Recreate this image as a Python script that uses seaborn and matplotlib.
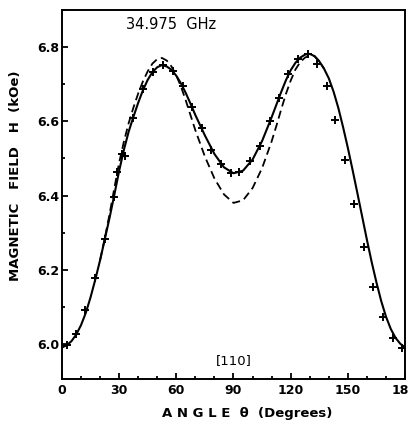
import numpy as np
import pandas as pd
import matplotlib
matplotlib.use("Agg")
import matplotlib.pyplot as plt
from matplotlib.ticker import MultipleLocator
import seaborn as sns

# measured resonance fields (crosses)
theta_meas = [2.5, 7.2, 12.1, 17.3, 22.6, 27.5, 28.8, 31.3, 33.0, 37.4, 42.7,
              47.9, 53.2, 58.4, 63.3, 68.0, 73.3, 78.4, 83.3, 88.8, 93.0,
              98.7, 103.7, 109.0, 113.8, 118.8, 123.7, 128.9, 133.6, 138.9,
              143.3, 148.5, 153.4, 158.5, 163.4, 168.6, 173.5, 178.3]
h_meas = [5.996, 6.027, 6.090, 6.177, 6.283, 6.395, 6.464, 6.511, 6.507, 6.608,
          6.686, 6.734, 6.752, 6.736, 6.695, 6.638, 6.581, 6.524, 6.484, 6.462,
          6.464, 6.492, 6.534, 6.601, 6.664, 6.728, 6.767, 6.781, 6.756, 6.695,
          6.604, 6.496, 6.377, 6.261, 6.154, 6.071, 6.015, 5.988]

# fitted curve (solid)
theta_fit = [0, 2.5, 5, 7.5, 10, 12.5, 15, 17.5, 20, 22.5, 25, 27.5, 30, 32.5,
             35, 37.5, 40, 42.5, 45, 47.5, 50, 52.5, 55, 57.5, 60, 62.5, 65,
             67.5, 70, 75, 80, 85, 90, 95, 100, 105, 110, 112.5, 115, 117.5,
             120, 122.5, 125, 127.5, 130, 132.5, 135, 137.5, 140, 142.5, 145,
             147.5, 150, 152.5, 155, 157.5, 160, 162.5, 165, 167.5, 170, 172.5,
             175, 177.5, 180]
h_fit = [5.990, 5.996, 6.007, 6.025, 6.050, 6.083, 6.125, 6.173, 6.225, 6.282,
         6.340, 6.402, 6.466, 6.523, 6.572, 6.612, 6.650, 6.684, 6.712, 6.733,
         6.746, 6.752, 6.748, 6.739, 6.723, 6.702, 6.676, 6.647, 6.617, 6.562,
         6.512, 6.476, 6.460, 6.467, 6.497, 6.547, 6.611, 6.645, 6.679, 6.711,
         6.738, 6.758, 6.772, 6.780, 6.782, 6.776, 6.762, 6.742, 6.716, 6.680,
         6.636, 6.584, 6.528, 6.468, 6.406, 6.343, 6.280, 6.220, 6.165, 6.115,
         6.073, 6.040, 6.016, 6.000, 5.990]

# calculated curve (dashed)
theta_calc = [20, 22.5, 25, 27.5, 30, 32.5, 35, 37.5, 40, 42.5, 45, 47.5, 50,
              52.5, 55, 57.5, 60, 62.5, 65, 67.5, 70, 75, 80, 85, 90, 95, 100,
              105, 110, 112.5, 115, 117.5, 120, 122.5, 125, 127.5, 130, 132.5,
              135, 137.5]
h_calc = [6.225, 6.285, 6.350, 6.420, 6.488, 6.545, 6.595, 6.637, 6.675, 6.708,
          6.735, 6.756, 6.768, 6.771, 6.764, 6.748, 6.724, 6.693, 6.656, 6.616,
          6.576, 6.505, 6.446, 6.403, 6.380, 6.387, 6.420, 6.474, 6.546, 6.588,
          6.632, 6.674, 6.710, 6.740, 6.760, 6.772, 6.777, 6.776, 6.762, 6.742]

x_ticks = [0, 30, 60, 90, 120, 150, 180]
y_ticks = [6.0, 6.2, 6.4, 6.6, 6.8]
y_tick_labels = ["6.0", "6.2", "6.4", "6.6", "6.8"]

sns.set_style("ticks")
plt.rcParams.update({
    "font.family": ["DejaVu Sans"],
    "text.color": "black",
    "axes.labelcolor": "black",
    "axes.edgecolor": "black",
    "xtick.color": "black",
    "ytick.color": "black",
})

fit_df = pd.DataFrame({"theta": theta_fit, "H": h_fit})
calc_df = pd.DataFrame({"theta": theta_calc, "H": h_calc})
meas_df = pd.DataFrame({"theta": theta_meas, "H": h_meas})

fig = plt.figure(figsize=(4.10, 4.23), dpi=100)
ax = fig.add_axes([0.151, 0.104, 0.837, 0.872])

sns.lineplot(data=fit_df, x="theta", y="H", ax=ax, color="black", lw=1.5,
             sort=False)
sns.lineplot(data=calc_df, x="theta", y="H", ax=ax, color="black", lw=1.3,
             sort=False, dashes=False, linestyle=(0, (4.5, 2.5)))
ax.plot(meas_df["theta"], meas_df["H"], ls="none", marker="+", ms=6,
        mew=1.4, color="black")

ax.set_xlim(0, 180)
ax.set_ylim(5.905, 6.90)
ax.set_xticks(x_ticks)
ax.set_yticks(y_ticks)
ax.set_yticklabels(y_tick_labels)
ax.xaxis.set_minor_locator(MultipleLocator(10))
ax.yaxis.set_minor_locator(MultipleLocator(0.1))
ax.tick_params(which="both", direction="in", width=1.3, top=False, right=False)
ax.tick_params(which="major", length=4, labelsize=9)
ax.tick_params(which="minor", length=2.5)
ax.tick_params(axis="y", pad=2)
for lab in ax.get_xticklabels() + ax.get_yticklabels():
    lab.set_fontweight("bold")
for sp in ax.spines.values():
    sp.set_linewidth(1.4)
    sp.set_visible(True)

ax.set_xlabel("A N G L E  θ  (Degrees)", fontsize=9.5, fontweight="bold")
ax.xaxis.set_label_coords(0.54, -0.075)
ax.set_ylabel("MAGNETIC   FIELD   H  (kOe)", fontsize=9.5, fontweight="bold")
ax.yaxis.set_label_coords(-0.115, 0.55)

ax.text(57, 6.86, "34.975  GHz", ha="center", va="center", fontsize=10.5)
ax.text(90, 5.955, "[110]", ha="center", va="center", fontsize=9.5)

fig.savefig("out.png", dpi=100)
